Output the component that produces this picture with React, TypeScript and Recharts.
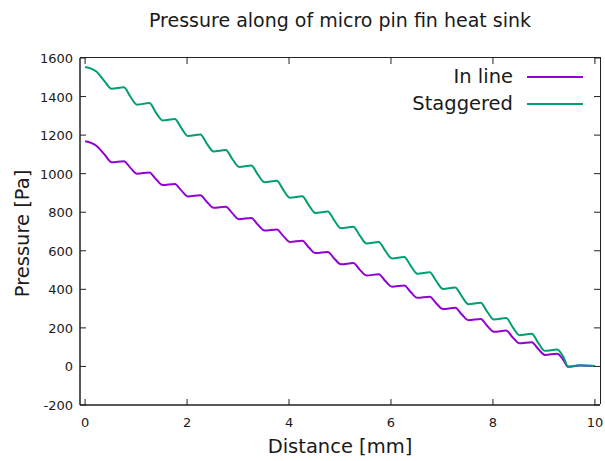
import { LineChart, Line, XAxis, YAxis, Legend } from 'recharts'

// ── Data ──────────────────────────────────────────────────────────────────

const distance = [
  0, 0.22, 0.38,
  0.52, 0.76, 0.89, 1.02, 1.26, 1.39, 1.52, 1.76, 1.89,
  2.02, 2.26, 2.39, 2.52, 2.76, 2.89, 3.02, 3.26, 3.39,
  3.52, 3.76, 3.89, 4.02, 4.26, 4.39, 4.52, 4.76, 4.89,
  5.02, 5.26, 5.39, 5.52, 5.76, 5.89, 6.02, 6.26, 6.39,
  6.52, 6.76, 6.89, 7.02, 7.26, 7.39, 7.52, 7.76, 7.89,
  8.02, 8.26, 8.39, 8.52, 8.76, 8.89, 9.02, 9.26, 9.39,
  9.47, 9.7, 10,
]

const inLine = [
  1168, 1145, 1100,
  1059, 1065, 1030, 1000, 1006, 971, 941, 947, 912,
  882, 888, 853, 823, 829, 794, 764, 770, 735,
  705, 711, 676, 646, 652, 617, 588, 594, 559,
  530, 536, 501, 472, 478, 443, 414, 420, 385,
  356, 362, 327, 298, 304, 269, 240, 246, 210,
  180, 186, 150, 120, 126, 90, 60, 66, 30,
  -2, 5, 2,
]

const staggered = [
  1553, 1530, 1480,
  1440, 1448, 1399, 1358, 1366, 1317, 1276, 1284, 1236,
  1195, 1203, 1155, 1115, 1123, 1075, 1035, 1043, 995,
  955, 963, 915, 875, 883, 836, 796, 804, 757,
  717, 725, 678, 638, 646, 599, 560, 568, 521,
  481, 489, 442, 402, 410, 363, 323, 331, 283,
  243, 251, 203, 162, 170, 122, 81, 88, 45,
  0, 6, 2,
]

const xTicks = [0, 2, 4, 6, 8, 10]
const yTicks = [-200, 0, 200, 400, 600, 800, 1000, 1200, 1400, 1600]

const data = distance.map((d, i) => ({ d, inLine: inLine[i], staggered: staggered[i] }))

// ── Layout / styles ───────────────────────────────────────────────────────

const FONT = '"DejaVu Sans", Verdana, sans-serif'
const TEXT = '#1a1a1a'
const FRAME = { stroke: '#222', strokeWidth: 1.5 }
const PURPLE = '#9400d3'
const GREEN = '#009e73'
const TICK_LEN = 6

const W = 605
const H = 461
const PLOT_LEFT = 80
const PLOT_TOP = 58
const PLOT_RIGHT = 600
const PLOT_BOTTOM = 405
const PLOT_W = PLOT_RIGHT - PLOT_LEFT
const PLOT_H = PLOT_BOTTOM - PLOT_TOP

const series = [
  { key: 'inLine', name: 'In line', color: PURPLE },
  { key: 'staggered', name: 'Staggered', color: GREEN },
]

// inward tick marks, mirrored on the opposite edge (gnuplot style)
function BottomTick({ x, y, payload }: any) {
  return (
    <g>
      <line x1={x} y1={y} x2={x} y2={y - TICK_LEN} stroke="#222" />
      <line x1={x} y1={y - PLOT_H} x2={x} y2={y - PLOT_H + TICK_LEN} stroke="#222" />
      <text x={x} y={y + 22} textAnchor="middle" fontSize={13} fontFamily={FONT} fill={TEXT}>
        {payload.value}
      </text>
    </g>
  )
}

function LeftTick({ x, y, payload }: any) {
  return (
    <g>
      <line x1={x} y1={y} x2={x + TICK_LEN} y2={y} stroke="#222" />
      <line x1={x + PLOT_W} y1={y} x2={x + PLOT_W - TICK_LEN} y2={y} stroke="#222" />
      <text x={x - 7} y={y + 5} textAnchor="end" fontSize={13} fontFamily={FONT} fill={TEXT}>
        {payload.value}
      </text>
    </g>
  )
}

function KeyBox() {
  return (
    <div style={{ fontFamily: FONT, fontSize: 19.5, color: TEXT }}>
      {series.map((s) => (
        <div key={s.key} style={{ display: 'flex', alignItems: 'center', justifyContent: 'flex-end', height: 27 }}>
          <span>{s.name}</span>
          <span style={{ display: 'inline-block', width: 56, height: 2, background: s.color, marginLeft: 14 }} />
        </div>
      ))}
    </div>
  )
}

export default function App() {
  return (
    <div style={{ position: 'absolute', left: 0, top: 0, width: W, height: H, overflow: 'hidden', background: '#fff' }}>
      <div style={{ position: 'absolute', left: 80, width: 520, top: 9, textAlign: 'center', fontFamily: FONT, fontSize: 19, color: TEXT }}>
        Pressure along of micro pin fin heat sink
      </div>
      <div style={{ position: 'absolute', left: 80, width: 520, top: 435, textAlign: 'center', fontFamily: FONT, fontSize: 19.5, color: TEXT }}>
        Distance [mm]
      </div>
      <div
        style={{
          position: 'absolute', left: 22, top: 234, width: 200, marginLeft: -100, marginTop: -12,
          transform: 'rotate(-90deg)', textAlign: 'center', fontFamily: FONT, fontSize: 19.5, color: TEXT,
        }}
      >
        Pressure [Pa]
      </div>
      <LineChart
        width={W} height={H} data={data}
        margin={{ top: PLOT_TOP, right: W - PLOT_RIGHT, bottom: 0, left: 0 }}
      >
        <XAxis
          dataKey="d" type="number" domain={[-0.1, 10.1]} ticks={xTicks} allowDataOverflow
          height={H - PLOT_BOTTOM} tickSize={0} tickMargin={0} tickLine={false} axisLine={FRAME} tick={BottomTick}
        />
        <YAxis
          type="number" domain={[-200, 1600]} ticks={yTicks} allowDataOverflow width={PLOT_LEFT}
          tickSize={0} tickMargin={0} tickLine={false} axisLine={FRAME} tick={LeftTick}
        />
        <Legend
          layout="horizontal" align="center" verticalAlign="middle"
          wrapperStyle={{ top: 63, left: 'auto', right: 22, width: 'auto' }}
          content={() => <KeyBox />}
        />
        {series.map((s) => (
          <Line
            key={s.key} type="monotone" dataKey={s.key} name={s.name}
            stroke={s.color} strokeWidth={2} dot={false} isAnimationActive={false}
          />
        ))}
      </LineChart>
      {/* top and right edges of the frame */}
      <div
        style={{
          position: 'absolute', left: PLOT_LEFT, top: PLOT_TOP - 0.75, width: PLOT_W + 0.75, height: PLOT_H,
          borderTop: '1.5px solid #222', borderRight: '1.5px solid #222', boxSizing: 'border-box', pointerEvents: 'none',
        }}
      />
    </div>
  )
}
